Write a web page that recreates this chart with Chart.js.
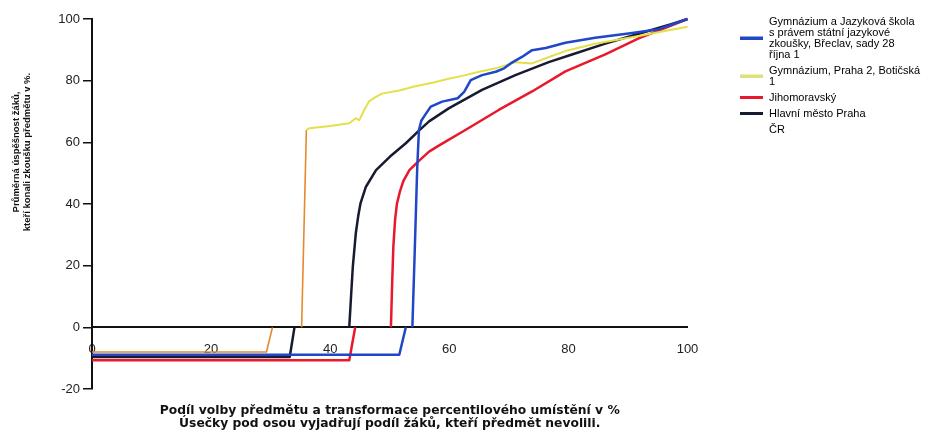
<!DOCTYPE html>
<html>
<head>
<meta charset="utf-8">
<script src="https://cdn.jsdelivr.net/npm/chart.js@4"></script>
<style>
  html, body { margin: 0; padding: 0; background: #fff; }
</style>
</head>
<body>
<canvas id="chart" width="930" height="432"></canvas>
<script>
// Each school / region: a short segment below the axis (share of pupils who did not
// choose the subject) and the curve of average success above it.
const breclavLabel = ['Gymnázium a Jazyková škola', 's právem státní jazykové', 'zkoušky, Břeclav, sady 28', 'října 1'];
const breclavBelowX = [0, 51.6, 52.7];
const breclavBelowY = [-8.9, -8.9, 0];
const breclavX = [53.8, 54.2, 54.6, 54.9, 55.3, 55.8, 56.9, 58.8, 61.4, 62.5, 63.6, 65.5, 67.8, 69.2, 70.3, 72.2, 73.9, 76.2, 79.5, 84.5, 90.1, 95.2, 100];
const breclavY = [0, 25, 51, 64, 67, 68.5, 71.6, 73.2, 74.3, 76.4, 80.2, 81.8, 82.9, 84, 85.6, 87.7, 89.9, 90.6, 92.3, 93.9, 95.3, 96.7, 100];

const praha2Label = ['Gymnázium, Praha 2, Botičská', '1'];
const praha2BelowX = [0, 29.3, 30.3];
const praha2BelowY = [-8, -8, 0];
const praha2X = [35.2, 35.6, 36.0, 36.5, 40, 43.2, 44.3, 44.9, 45.7, 46.5, 47.3, 48.7, 51.6, 54.3, 57.2, 59.9, 62.7, 65, 67.8, 71.1, 73.9, 77.2, 79.5, 84.5, 91.8, 96, 100];
const praha2Y = [0, 32, 64, 64.6, 65.3, 66.2, 67.8, 67.2, 70.5, 73.2, 74.3, 75.8, 76.8, 78.2, 79.3, 80.6, 81.8, 82.9, 84, 86, 85.6, 88, 89.6, 92, 94.5, 96, 97.5];

const jmkLabel = ['Jihomoravský'];
const jmkBelowX = [0, 43.2, 44.2];
const jmkBelowY = [-10.7, -10.7, 0];
const jmkX = [50.2, 50.4, 50.6, 50.9, 51.2, 51.7, 52.3, 53.3, 54.9, 56.6, 58.3, 62.7, 68.3, 73.9, 79.5, 86.2, 91.8, 94.6, 100];
const jmkY = [0, 14, 26, 35, 40, 44, 47.5, 51, 54, 57, 59, 64, 70.5, 76.5, 83, 88.5, 93.7, 95.8, 100];

const prahaLabel = ['Hlavní město Praha'];
const prahaBelowX = [0, 33.2, 34];
const prahaBelowY = [-9.6, -9.6, 0];
const prahaX = [43.2, 43.5, 43.8, 44.3, 44.7, 45.1, 46, 47.7, 50, 52.7, 54.9, 56.6, 59.9, 65.5, 71.1, 76.7, 80.6, 86.2, 91.8, 97.4, 100];
const prahaY = [0, 10, 19.7, 30.5, 36, 40.3, 45.6, 51, 55.3, 59.7, 63.8, 66.8, 71, 77, 81.8, 86, 88.5, 92, 95.2, 98.4, 100];

const crLabel = ['ČR'];

const xTicks = [0, 20, 40, 60, 80, 100];
const yTicks = [-20, 0, 20, 40, 60, 80, 100];

const xTitle = ['Podíl volby předmětu a transformace percentilového umístění v %',
                'Úsečky pod osou vyjadřují podíl žáků, kteří předmět nevolili.'];
const yTitle = ['Průměrná úspěšnost žáků,', 'kteří konali zkoušku předmětu v %.'];

const ORANGE = '#e5892c';

function toPoints(bx, by, cx, cy) {
  const below = bx.map((x, i) => ({ x, y: by[i] }));
  const curve = cx.map((x, i) => ({ x, y: cy[i] }));
  return below.concat([{ x: null, y: null }], curve);
}

// short legend line, moved down to the middle of a multi-line label
function legendMark(color, lines) {
  const off = (lines - 1) * 11 / 2;
  const c = document.createElement('canvas');
  c.width = 23;
  c.height = Math.round(2 * off + 3);
  const g = c.getContext('2d');
  g.fillStyle = color;
  g.fillRect(0, c.height - 3, 23, 3);
  return c;
}

const axisTitles = {
  id: 'axisTitles',
  afterDraw(chart) {
    const { ctx, chartArea } = chart;
    ctx.save();
    ctx.fillStyle = '#111';
    ctx.textAlign = 'center';
    ctx.textBaseline = 'middle';
    ctx.font = 'bold 12.3px "DejaVu Sans"';
    const cx = (chartArea.left + chartArea.right) / 2;
    xTitle.forEach((t, i) => ctx.fillText(t, cx, 411 + i * 12.5));
    ctx.translate(22, 152);
    ctx.rotate(-Math.PI / 2);
    ctx.font = 'bold 9.5px "Liberation Sans"';
    yTitle.forEach((t, i) => ctx.fillText(t, 0, -5.5 + i * 11));
    ctx.restore();
  }
};

const lineStyle = { showLine: true, pointRadius: 0, tension: 0, borderJoinStyle: 'round', clip: 6 };

new Chart(document.getElementById('chart'), {
  type: 'scatter',
  data: {
    datasets: [
      { ...lineStyle, label: breclavLabel, borderColor: '#1f47c8', borderWidth: 2.5,
        data: toPoints(breclavBelowX, breclavBelowY, breclavX, breclavY) },
      { ...lineStyle, label: praha2Label, borderColor: '#e3e04a', borderWidth: 2,
        segment: {
          borderColor: c => c.p1.parsed.x <= 36 ? ORANGE : undefined,
          borderWidth: c => c.p1.parsed.x <= 36 ? 1.6 : undefined
        },
        data: toPoints(praha2BelowX, praha2BelowY, praha2X, praha2Y) },
      { ...lineStyle, label: jmkLabel, borderColor: '#e8192c', borderWidth: 2.5,
        data: toPoints(jmkBelowX, jmkBelowY, jmkX, jmkY) },
      { ...lineStyle, label: prahaLabel, borderColor: '#161b30', borderWidth: 2.5,
        data: toPoints(prahaBelowX, prahaBelowY, prahaX, prahaY) },
      { ...lineStyle, label: crLabel, borderColor: 'rgba(0,0,0,0)', data: [] }
    ]
  },
  options: {
    responsive: false,
    animation: false,
    layout: { padding: { left: 40, top: 11, right: 0, bottom: 43 } },
    scales: {
      x: {
        type: 'linear',
        min: 0, max: 100,
        position: { y: 0 },
        afterBuildTicks: s => { s.ticks = xTicks.map(v => ({ value: v })); },
        grid: { display: false },
        border: { color: '#111', width: 2 },
        ticks: { padding: 6, color: '#222', font: { family: 'Liberation Sans', size: 13 } }
      },
      y: {
        min: -20, max: 100,
        afterBuildTicks: s => { s.ticks = yTicks.map(v => ({ value: v })); },
        afterFit: s => { s.width = 52; },
        grid: { drawOnChartArea: false, color: '#111', lineWidth: 1.5, tickLength: 9 },
        border: { color: '#111', width: 2 },
        ticks: { padding: 3, color: '#222', font: { family: 'Liberation Sans', size: 13 } }
      },
      xTop: {
        type: 'linear', position: 'top',
        grid: { display: false }, border: { display: false }, ticks: { display: false },
        afterFit: s => { s.height = 8; }
      },
      yRight: {
        type: 'linear', position: 'right',
        grid: { display: false }, border: { display: false }, ticks: { display: false },
        afterFit: s => { s.width = 48; }
      }
    },
    plugins: {
      tooltip: { enabled: false },
      legend: {
        position: 'right',
        align: 'start',
        maxWidth: 200,
        labels: {
          usePointStyle: true,
          pointStyleWidth: 23,
          padding: 5,
          color: '#222',
          font: { family: 'Liberation Sans', size: 11, lineHeight: 1.0 },
          generateLabels: chart => chart.data.datasets.map((ds, i) => ({
            text: ds.label,
            datasetIndex: i,
            hidden: false,
            lineWidth: 0,
            strokeStyle: 'rgba(0,0,0,0)',
            fillStyle: ds.borderColor,
            pointStyle: legendMark(i === 1 ? '#dfe07a' : ds.borderColor, ds.label.length)
          }))
        }
      }
    }
  },
  plugins: [axisTitles]
});
</script>
</body>
</html>
